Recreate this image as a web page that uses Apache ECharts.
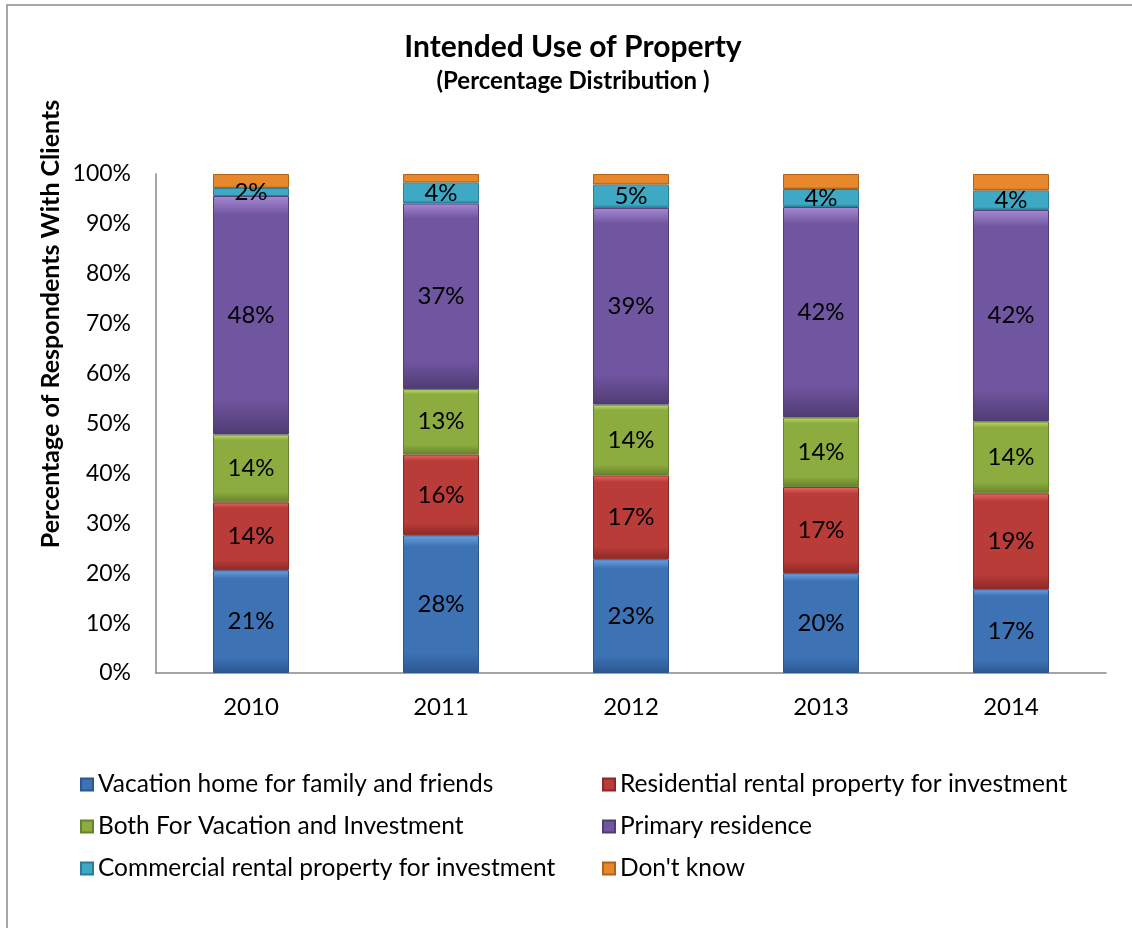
<!DOCTYPE html>
<html>
<head>
<meta charset="utf-8">
<script src="https://cdn.jsdelivr.net/npm/echarts@6/dist/echarts.min.js"></script>
<style>
html, body { margin: 0; padding: 0; background: #fff; }
#main { width: 1132px; height: 928px; }
</style>
</head>
<body>
<div id="main"></div>
<script>
// data (percent of respondents)
var years = ['2010', '2011', '2012', '2013', '2014'];
var vacationHome = [20.6, 27.6, 22.8, 20.0, 16.8];
var residentialRental = [13.6, 16.2, 16.8, 17.3, 19.2];
var bothVacationInvest = [13.6, 13.1, 14.2, 13.9, 14.4];
var primaryResidence = [47.8, 37.2, 39.4, 42.2, 42.4];
var commercialRental = [1.6, 4.2, 4.7, 3.6, 3.9];
var dontKnow = [2.8, 1.7, 2.1, 3.0, 3.3];
var yTicks = [0, 10, 20, 30, 40, 50, 60, 70, 80, 90, 100];

var font = 'Lato, "Open Sans", sans-serif';

window.onload = function () {
	var myChart = echarts.init(document.getElementById('main'));

	function fill(light, base, dark) {
		return new echarts.graphic.LinearGradient(0, 0, 0, 1, [
			{ offset: 0, color: light },
			{ offset: 0.08, color: base },
			{ offset: 0.85, color: base },
			{ offset: 1, color: dark }
		]);
	}

	function makeSeries(name, data, light, base, dark) {
		return {
			name: name,
			type: 'bar',
			stack: 'total',
			barWidth: '40%',
			data: data,
			itemStyle: {
				color: fill(light, base, dark),
				borderColor: dark,
				borderWidth: 1
			},
			label: {
				show: name !== "Don't know",
				position: 'inside',
				color: '#000',
				fontFamily: font,
				fontSize: 24,
				formatter: function (p) {
					return Math.round(p.value) + '%';
				}
			}
		};
	}

	var legendText = { fontFamily: font, fontSize: 24.5, color: '#000', lineHeight: 24 };

	var option = {
		animation: false,
		color: ['#3d72b5', '#b93c38', '#8cac40', '#7055a0', '#3fa8c4', '#e8882c'],
		title: {
			text: 'Intended Use of Property',
			subtext: '(Percentage Distribution )',
			left: 568,
			top: 27,
			textAlign: 'center',
			itemGap: 7,
			textStyle: { fontFamily: font, fontSize: 30, fontWeight: 'bold', color: '#000' },
			subtextStyle: { fontFamily: font, fontSize: 24, fontWeight: 'bold', color: '#000' }
		},
		graphic: [{
			type: 'rect',
			shape: { x: 7, y: 5, width: 1200, height: 1000 },
			style: { fill: 'none', stroke: '#8c8c8c', lineWidth: 1.5 },
			silent: true
		}, {
			// y axis title, sits higher than the plot centre in the original
			type: 'text',
			x: 51,
			y: 324,
			rotation: Math.PI / 2,
			style: {
				text: 'Percentage of Respondents With Clients',
				fontFamily: font,
				fontSize: 25,
				fontWeight: 'bold',
				fill: '#000',
				align: 'center',
				verticalAlign: 'middle'
			},
			silent: true
		}],
		legend: [{
			orient: 'vertical',
			left: 75,
			top: 767,
			itemWidth: 12,
			itemHeight: 12,
			itemGap: 17,
			icon: 'rect',
			textStyle: legendText,
			data: ['Vacation home for family and friends', 'Both For Vacation and Investment', 'Commercial rental property for investment']
		}, {
			orient: 'vertical',
			left: 597,
			top: 767,
			itemWidth: 12,
			itemHeight: 12,
			itemGap: 17,
			icon: 'rect',
			textStyle: legendText,
			data: ['Residential rental property for investment', 'Primary residence', "Don't know"]
		}],
		grid: {
			left: 156,
			right: 26,
			top: 174,
			bottom: 255
		},
		xAxis: {
			type: 'category',
			data: years,
			axisLine: { lineStyle: { color: '#868686', width: 1.5 } },
			axisTick: { show: false },
			axisLabel: { color: '#000', fontFamily: font, fontSize: 24, margin: 22 }
		},
		yAxis: {
			type: 'value',
			min: yTicks[0],
			max: yTicks[yTicks.length - 1],
			interval: yTicks[1] - yTicks[0],
			axisLine: { show: true, lineStyle: { color: '#868686', width: 1.5 } },
			axisTick: { show: false },
			splitLine: { show: false },
			axisLabel: {
				color: '#000',
				fontFamily: font,
				fontSize: 23,
				margin: 25,
				formatter: '{value}%'
			}
		},
		series: [
			makeSeries('Vacation home for family and friends', vacationHome, '#6da2e0', '#3d72b5', '#2b5790'),
			makeSeries('Residential rental property for investment', residentialRental, '#e66a66', '#b93c38', '#8c2926'),
			makeSeries('Both For Vacation and Investment', bothVacationInvest, '#c0dc70', '#8cac40', '#66822c'),
			makeSeries('Primary residence', primaryResidence, '#a68ad2', '#7055a0', '#4f3c73'),
			makeSeries('Commercial rental property for investment', commercialRental, '#7ad8f0', '#3fa8c4', '#2a7d94'),
			makeSeries("Don't know", dontKnow, '#ffb860', '#e8882c', '#b0621a')
		]
	};

	myChart.setOption(option);
};
</script>
</body>
</html>
